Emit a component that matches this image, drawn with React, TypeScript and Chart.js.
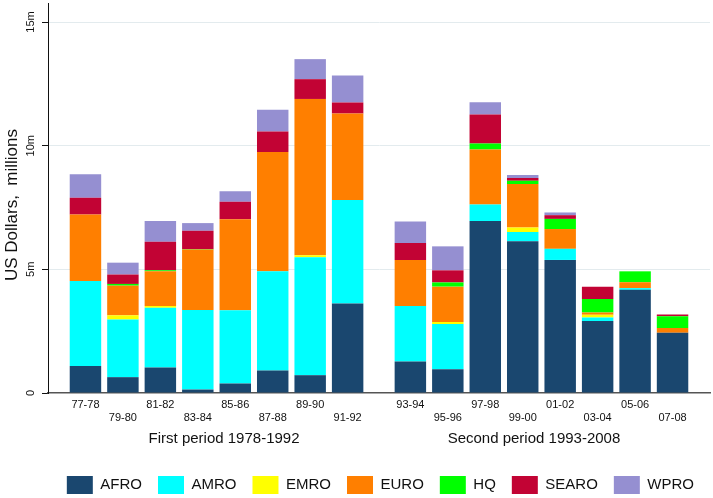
import React, { useEffect, useRef } from 'react';
import { Chart, registerables } from 'chart.js';

Chart.register(...registerables);

// ---- data (US$ millions) ----
const periods = ['77-78', '79-80', '81-82', '83-84', '85-86', '87-88', '89-90', '91-92',
  '93-94', '95-96', '97-98', '99-00', '01-02', '03-04', '05-06', '07-08'];
const AFRO = [1.09, 0.64, 1.03, 0.14, 0.38, 0.91, 0.72, 3.62, 1.27, 0.96, 6.96, 6.14, 5.38, 2.91, 4.17, 2.44];
const AMRO = [3.44, 2.33, 2.42, 3.22, 2.97, 4.01, 4.77, 4.18, 2.25, 1.83, 0.66, 0.37, 0.45, 0.14, 0.07, 0];
const EMRO = [0, 0.17, 0.07, 0, 0, 0, 0.08, 0, 0, 0.08, 0, 0.18, 0, 0.11, 0, 0];
const EURO = [2.69, 1.2, 1.4, 2.44, 3.68, 4.82, 6.32, 3.5, 1.86, 1.43, 2.23, 1.76, 0.8, 0.1, 0.24, 0.19];
const HQ = [0, 0.07, 0.04, 0.02, 0, 0, 0, 0, 0, 0.17, 0.24, 0.13, 0.41, 0.54, 0.44, 0.47];
const SEARO = [0.68, 0.38, 1.16, 0.74, 0.7, 0.83, 0.8, 0.45, 0.69, 0.49, 1.17, 0.11, 0.15, 0.5, 0, 0.07];
const WPRO = [0.95, 0.48, 0.84, 0.31, 0.43, 0.88, 0.81, 1.09, 0.86, 0.97, 0.5, 0.12, 0.11, 0, 0, 0];
const yTicks = [0, 5, 10, 15];
const periodTitles = ['First period 1978-1992', 'Second period 1993-2008'];
const yTitle = 'US Dollars,  millions';

const FONT = '"Liberation Sans", Arial, Helvetica, sans-serif';
const GROUP_GAP = 0.675; // extra space between the two periods (in slot units)
const FIRST_PERIOD_COUNT = 8;
const slotOf = (i: number) => i + 1 + (i >= FIRST_PERIOD_COUNT ? GROUP_GAP : 0);
const X_MAX = periods.length + 1 + GROUP_GAP;

const series = [
  { label: 'AFRO', data: AFRO, color: '#1a476f' },
  { label: 'AMRO', data: AMRO, color: '#00ffff' },
  { label: 'EMRO', data: EMRO, color: '#ffff00' },
  { label: 'EURO', data: EURO, color: '#ff7f00' },
  { label: 'HQ', data: HQ, color: '#00ff00' },
  { label: 'SEARO', data: SEARO, color: '#c20334' },
  { label: 'WPRO', data: WPRO, color: '#958fd1' },
];

const textPlugin = {
  id: 'extraText',
  afterDraw(chart: any) {
    const { ctx, chartArea, scales } = chart;
    ctx.save();
    ctx.fillStyle = '#111';
    ctx.textAlign = 'center';
    ctx.textBaseline = 'middle';
    ctx.font = `15px ${FONT}`;
    const centers = [
      (slotOf(0) + slotOf(FIRST_PERIOD_COUNT - 1)) / 2 + 0.2,
      (slotOf(FIRST_PERIOD_COUNT) + slotOf(periods.length - 1)) / 2 - 0.2,
    ];
    periodTitles.forEach((t, i) => {
      ctx.fillText(t, scales.x.getPixelForValue(centers[i]), chartArea.bottom + 46);
    });
    ctx.font = `17px ${FONT}`;
    ctx.translate(12, chartArea.top + (chartArea.bottom - chartArea.top) * 0.518);
    ctx.rotate(-Math.PI / 2);
    ctx.fillText(yTitle, 0, 0);
    ctx.restore();
  },
};

export default function App() {
  const ref = useRef<HTMLCanvasElement>(null);
  useEffect(() => {
    if (!ref.current) return;
    const chart = new Chart(ref.current, {
      type: 'bar',
      data: {
        datasets: series.map((s) => ({
          label: s.label,
          data: s.data.map((v, i) => ({ x: slotOf(i), y: v })),
          backgroundColor: s.color,
          borderColor: s.color,
          borderWidth: 0,
          categoryPercentage: 1,
          barPercentage: 0.84,
        })),
      },
      options: {
        animation: false,
        responsive: false,
        events: [],
        layout: { padding: { top: 3, right: 3, bottom: -6, left: 0 } },
        font: { family: FONT },
        plugins: {
          tooltip: { enabled: false },
          legend: {
            position: 'bottom',
            align: 'end',
            labels: {
              boxWidth: 26,
              boxHeight: 18,
              padding: 16,
              color: '#111',
              font: { size: 15, family: FONT },
            },
          },
        },
        scales: {
          x: {
            type: 'linear',
            stacked: true,
            min: 0,
            max: X_MAX,
            offset: false,
            grid: { display: false, drawTicks: false },
            border: { display: true, color: '#555', width: 1.5 },
            afterBuildTicks: (scale: any) => {
              scale.ticks = periods.map((_, i) => ({ value: slotOf(i) }));
            },
            afterFit: (scale: any) => {
              scale.height = 67;
              scale.paddingLeft = 0;
              scale.paddingRight = 0;
            },
            ticks: {
              autoSkip: false,
              maxRotation: 0,
              minRotation: 0,
              padding: 5.7,
              color: '#111',
              font: { size: 11, family: FONT, lineHeight: 1.15 },
              callback: (_v: any, i: number) => (i % 2 ? ['', periods[i]] : periods[i]),
            },
          },
          y: {
            type: 'linear',
            stacked: true,
            min: 0,
            max: 15.77,
            grid: {
              color: (c: any) => (c.tick && c.tick.value === 0 ? 'rgba(0,0,0,0)' : '#e3ebee'),
              tickColor: '#111',
              tickLength: 6,
              drawTicks: true,
            },
            border: { display: true, color: '#111', width: 1 },
            afterBuildTicks: (scale: any) => {
              scale.ticks = yTicks.map((v) => ({ value: v }));
            },
            afterFit: (scale: any) => {
              scale.width = 48;
              scale.paddingTop = 0;
              scale.paddingBottom = 0;
            },
            ticks: {
              minRotation: 90,
              maxRotation: 90,
              crossAlign: 'center',
              padding: 0,
              color: '#111',
              font: { size: 11, family: FONT },
              callback: (v: any) => (v === 0 ? '0' : `${v}m`),
            },
          },
        },
      },
      plugins: [textPlugin],
    } as any);
    return () => chart.destroy();
  }, []);
  return (
    <canvas
      ref={ref}
      width={713}
      height={498}
      style={{ position: 'absolute', left: 0, top: 0, width: 713, height: 498, display: 'block' }}
    />
  );
}
